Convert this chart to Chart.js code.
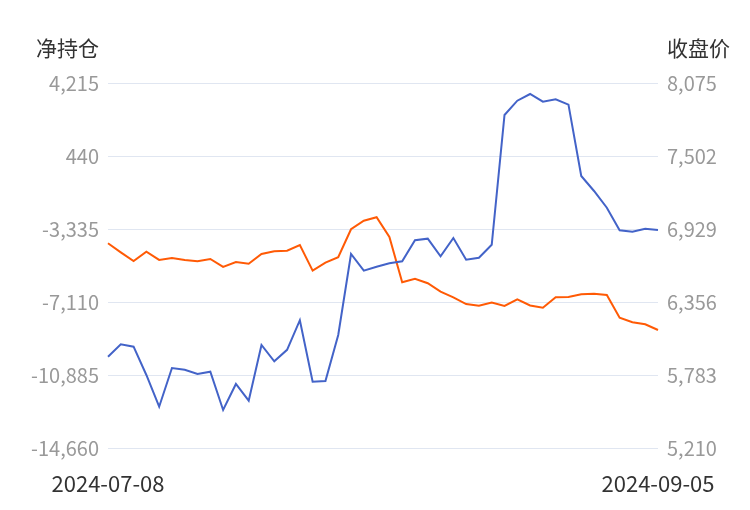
<!DOCTYPE html>
<html>
<head>
<meta charset="utf-8">
<script src="https://cdn.jsdelivr.net/npm/chart.js@4/dist/chart.umd.min.js"></script>
<style>
html,body{margin:0;padding:0;background:#fff;}
#wrap{width:750px;height:510px;position:relative;}
</style>
</head>
<body>
<div id="wrap"><canvas id="c" width="750" height="510"></canvas></div>
<script>
const dates = ["2024-07-08","2024-07-09","2024-07-10","2024-07-11","2024-07-12","2024-07-15","2024-07-16","2024-07-17","2024-07-18","2024-07-19","2024-07-22","2024-07-23","2024-07-24","2024-07-25","2024-07-26","2024-07-29","2024-07-30","2024-07-31","2024-08-01","2024-08-02","2024-08-05","2024-08-06","2024-08-07","2024-08-08","2024-08-09","2024-08-12","2024-08-13","2024-08-14","2024-08-15","2024-08-16","2024-08-19","2024-08-20","2024-08-21","2024-08-22","2024-08-23","2024-08-26","2024-08-27","2024-08-28","2024-08-29","2024-08-30","2024-09-02","2024-09-03","2024-09-04","2024-09-05"];
const netPosition = [-9938,-9297,-9421,-10884,-12524,-10522,-10610,-10833,-10714,-12694,-11350,-12213,-9333,-10176,-9581,-8051,-11231,-11195,-8816,-4627,-5491,-5284,-5108,-5005,-3919,-3836,-4746,-3800,-4922,-4819,-4152,2560,3300,3646,3248,3372,3093,-594,-1370,-2233,-3402,-3474,-3319,-3386];
const closePrice = [6817,6746,6678,6751,6686,6701,6686,6676,6694,6631,6670,6656,6733,6754,6759,6803,6602,6665,6707,6927,6994,7021,6866,6511,6539,6503,6437,6393,6340,6327,6352,6325,6376,6329,6311,6393,6395,6417,6421,6411,6233,6197,6181,6136];
const leftTicks = [-14660,-10885,-7110,-3335,440,4215];
const rightTicks = [5210,5783,6356,6929,7502,8075];
const leftTitle = "净持仓";
const rightTitle = "收盘价";

const FONT = "'Noto Sans CJK SC','Noto Sans',sans-serif";
const fmt = v => Number(v).toLocaleString('en-US');

const titlePlugin = {
  id: 'axisTitles',
  afterDraw(chart) {
    const ctx = chart.ctx;
    const ca = chart.chartArea;
    ctx.save();
    ctx.font = "21px " + FONT;
    ctx.fillStyle = '#333';
    ctx.textBaseline = 'middle';
    ctx.textAlign = 'right';
    ctx.fillText(leftTitle, ca.left - 9, 48);
    ctx.textAlign = 'left';
    ctx.fillText(rightTitle, ca.right + 9, 48);
    ctx.restore();
  }
};

new Chart(document.getElementById('c'), {
  type: 'line',
  data: {
    labels: dates,
    datasets: [
      { label: leftTitle, data: netPosition, yAxisID: 'yL', borderColor: '#4363c8', backgroundColor: '#4363c8', borderWidth: 2, pointRadius: 0, tension: 0 },
      { label: rightTitle, data: closePrice, yAxisID: 'yR', borderColor: '#ff5a05', backgroundColor: '#ff5a05', borderWidth: 2, pointRadius: 0, tension: 0 }
    ]
  },
  options: {
    responsive: false,
    animation: false,
    layout: { padding: { top: 83, left: 0, right: 0, bottom: 0 } },
    plugins: { legend: { display: false }, tooltip: { enabled: false } },
    scales: {
      x: {
        type: 'category',
        offset: false,
        grid: { display: false, drawTicks: false },
        border: { display: false },
        ticks: {
          autoSkip: false, maxRotation: 0, minRotation: 0,
          padding: 22,
          color: '#333',
          font: { family: FONT, size: 22 },
          callback: function(v, i) { return (i === 0 || i === dates.length - 1) ? dates[i] : ''; }
        },
        afterFit(s) { s.height = 62; }
      },
      yL: {
        position: 'left',
        min: leftTicks[0], max: leftTicks[leftTicks.length - 1],
        afterBuildTicks(s) { s.ticks = leftTicks.map(v => ({ value: v })); },
        grid: { color: '#e0e6f1', lineWidth: 1, drawTicks: false },
        border: { display: false },
        ticks: { padding: 9, color: '#999', font: { family: FONT, size: 20 }, callback: v => fmt(v) },
        afterFit(s) { s.width = 108; }
      },
      yR: {
        position: 'right',
        min: rightTicks[0], max: rightTicks[rightTicks.length - 1],
        afterBuildTicks(s) { s.ticks = rightTicks.map(v => ({ value: v })); },
        grid: { display: false, drawTicks: false },
        border: { display: false },
        ticks: { padding: 9, color: '#999', font: { family: FONT, size: 20 }, callback: v => fmt(v) },
        afterFit(s) { s.width = 92; }
      }
    }
  },
  plugins: [titlePlugin]
});
</script>
</body>
</html>
